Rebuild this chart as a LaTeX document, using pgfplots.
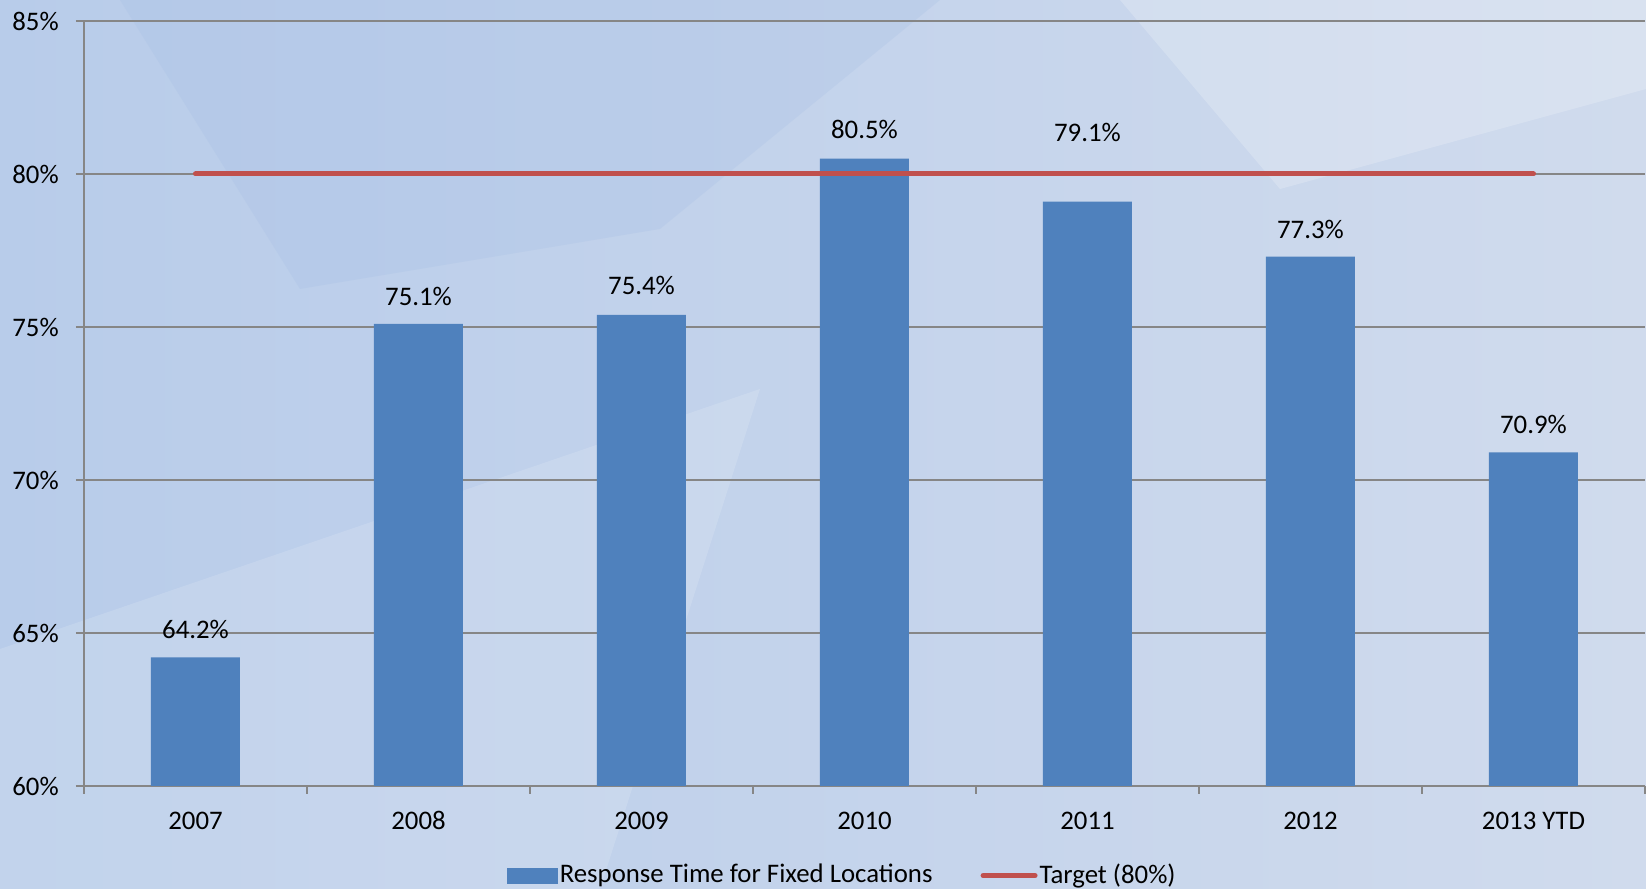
\documentclass[border=0pt]{standalone}
\usepackage{fontspec}
\setmainfont{Carlito}
\usepackage{pgfplots}
\pgfplotsset{compat=1.18}
\definecolor{barblue}{HTML}{4F81BD}
\definecolor{tgtred}{HTML}{C0504D}
\definecolor{gridgray}{HTML}{868686}
\definecolor{bgA}{RGB}{184,204,234}
\definecolor{bgB}{RGB}{208,219,237}
\definecolor{bgDark}{RGB}{165,190,228}
\begin{document}
\fontsize{13.4pt}{16pt}\selectfont
\begin{tikzpicture}
\useasboundingbox (0,0) rectangle (823pt,444.5pt);
\shade[left color=bgA, right color=bgB] (0,0) rectangle (823pt,444.5pt);
\fill[bgDark, opacity=0.25] (60pt,444.5pt) -- (470pt,444.5pt) -- (330pt,330pt) -- (150pt,300pt) -- cycle;
\fill[white, opacity=0.2] (560pt,444.5pt) -- (823pt,444.5pt) -- (823pt,400pt) -- (640pt,350pt) -- cycle;
\fill[white, opacity=0.14] (0pt,0pt) -- (300pt,0pt) -- (380pt,250pt) -- (0pt,120pt) -- cycle;
\begin{axis}[
  at={(42pt,51.5pt)}, anchor=south west,
  scale only axis, width=780.5pt, height=382.5pt,
  xmin=-0.5, xmax=6.5, ymin=60, ymax=85,
  xtick={-0.5,0.5,1.5,2.5,3.5,4.5,5.5,6.5},
  x tick label as interval,
  xticklabels={2007,2008,2009,2010,2011,2012,2013 YTD},
  ytick={60,65,70,75,80,85},
  yticklabel={\pgfmathprintnumber{\tick}\%},
  /pgf/number format/assume math mode=true,
  axis x line*=bottom, axis y line*=left,
  axis line style={gridgray, line width=0.75pt, -},
  tick style={gridgray, line width=0.75pt},
  tick align=outside,
  major tick length=4pt,
  ymajorgrids, grid style={gridgray, line width=0.75pt},
  xticklabel style={text height=8.6pt, text depth=0pt, yshift=-4.6pt},
  yticklabel style={xshift=-4pt},
  legend columns=2,
  legend style={at={(0.4857,0)}, anchor=center, yshift=-44.8pt, draw=none, fill=none,
    /tikz/every even column/.append style={column sep=23pt},
    nodes={inner sep=1pt}},
  legend cell align=left,
]
\addplot[ybar, bar width=44.5pt, fill=barblue, draw=none,
  legend image code/.code={\fill[barblue] (0pt,-4pt) rectangle (25.5pt,4pt);}]
  coordinates {(0,64.2) (1,75.1) (2,75.4) (3,80.5) (4,79.1) (5,77.3) (6,70.9)};
\addlegendentry{Response Time for Fixed Locations}
\addplot[tgtred, line width=2.5pt, line cap=round,
  legend image code/.code={\draw[tgtred, line width=2.5pt, line cap=round] (0pt,0pt) -- (26pt,0pt);}]
  coordinates {(0,80) (6,80)};
\addlegendentry{Target (80\%)}
\addplot[draw=none, mark=none, forget plot, nodes near coords, point meta=explicit symbolic,
  every node near coord/.append style={anchor=center, text=black}]
  coordinates {(0,65.1) [64.2\%] (1,76.0) [75.1\%] (2,76.35) [75.4\%] (3,81.45) [80.5\%]
               (4,81.35) [79.1\%] (5,78.2) [77.3\%] (6,71.8) [70.9\%]};
\end{axis}
\end{tikzpicture}
\end{document}
